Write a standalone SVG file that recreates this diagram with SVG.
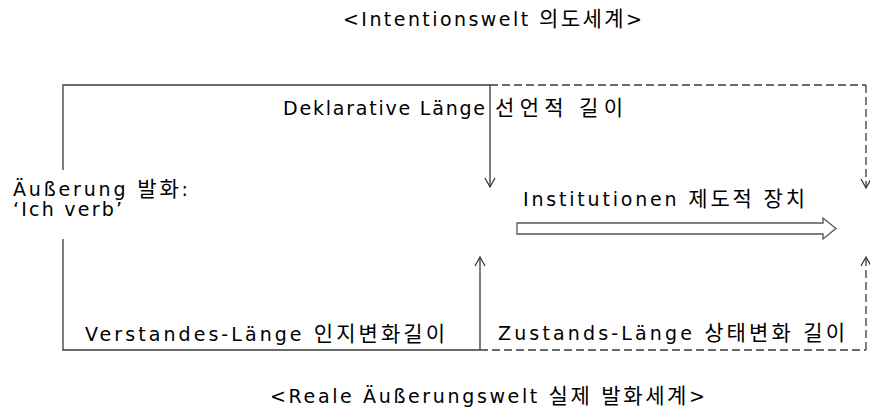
<svg xmlns="http://www.w3.org/2000/svg" width="870" height="413" viewBox="0 0 870 413">
<defs>
<style>
text{font-family:"DejaVu Sans","Noto Sans CJK KR",sans-serif;font-size:19px;fill:#000}
tspan.k,text.k{font-family:"Noto Sans CJK KR","DejaVu Sans",sans-serif;font-size:21px}
.ln{stroke:#3a3a3a;stroke-width:1.3;fill:none}
.ds{stroke:#3a3a3a;stroke-width:1.3;fill:none;stroke-dasharray:8 4}
.ah{stroke:#3a3a3a;stroke-width:1.3;fill:none}
</style>
</defs>
<rect width="870" height="413" fill="#fff"/>
<g id="connectors">
<path class="ln" d="M63,170 V85 H490"/>
<path class="ds" d="M490,85 H866"/>
<path class="ln" d="M63,239 V350 H480"/>
<path class="ds" d="M480,350 H866"/>
<path class="ln" d="M490,85 V187"/>
<path class="ah" d="M485,178 L490,187 L495,178"/>
<path class="ds" d="M866,85 V188"/>
<path class="ah" d="M861,179 L866,188 L871,179"/>
<path class="ln" d="M480,350 V257"/>
<path class="ah" d="M475,266 L480,257 L485,266"/>
<path class="ds" d="M866,350 V257"/>
<path class="ah" d="M861,266 L866,257 L871,266"/>
</g>
<g id="institutionen-arrow">
<polygon points="517,223 823,223 823,218 836,228.5 823,239 823,234 517,234" fill="#fff" stroke="#555" stroke-width="1.3"/>
</g>
<g id="title-top">
<text x="343" y="26" textLength="299" lengthAdjust="spacing">&lt;Intentionswelt <tspan class="k">의도세계</tspan>&gt;</text>
</g>
<g id="deklarative">
<text x="283" y="115" textLength="202" lengthAdjust="spacing">Deklarative Länge</text>
<text class="k" x="495" y="115" textLength="128" lengthAdjust="spacing">선언적 길이</text>
</g>
<g id="aeusserung">
<text x="13" y="196" textLength="175" lengthAdjust="spacing">Äußerung <tspan class="k">발화</tspan>:</text>
<text x="13" y="216" textLength="109" lengthAdjust="spacing">‘Ich verb’</text>
</g>
<g id="institutionen">
<text x="523" y="206" textLength="282" lengthAdjust="spacing">Institutionen <tspan class="k">제도적</tspan> <tspan class="k">장치</tspan></text>
</g>
<g id="verstandes">
<text x="85" y="341" textLength="360" lengthAdjust="spacing">Verstandes-Länge <tspan class="k">인지변화길이</tspan></text>
</g>
<g id="zustands">
<text x="498" y="340" textLength="347" lengthAdjust="spacing">Zustands-Länge <tspan class="k">상태변화</tspan> <tspan class="k">길이</tspan></text>
</g>
<g id="title-bottom">
<text x="270" y="403" textLength="435" lengthAdjust="spacing">&lt;Reale Äußerungswelt <tspan class="k">실제</tspan> <tspan class="k">발화세계</tspan>&gt;</text>
</g>
</svg>
